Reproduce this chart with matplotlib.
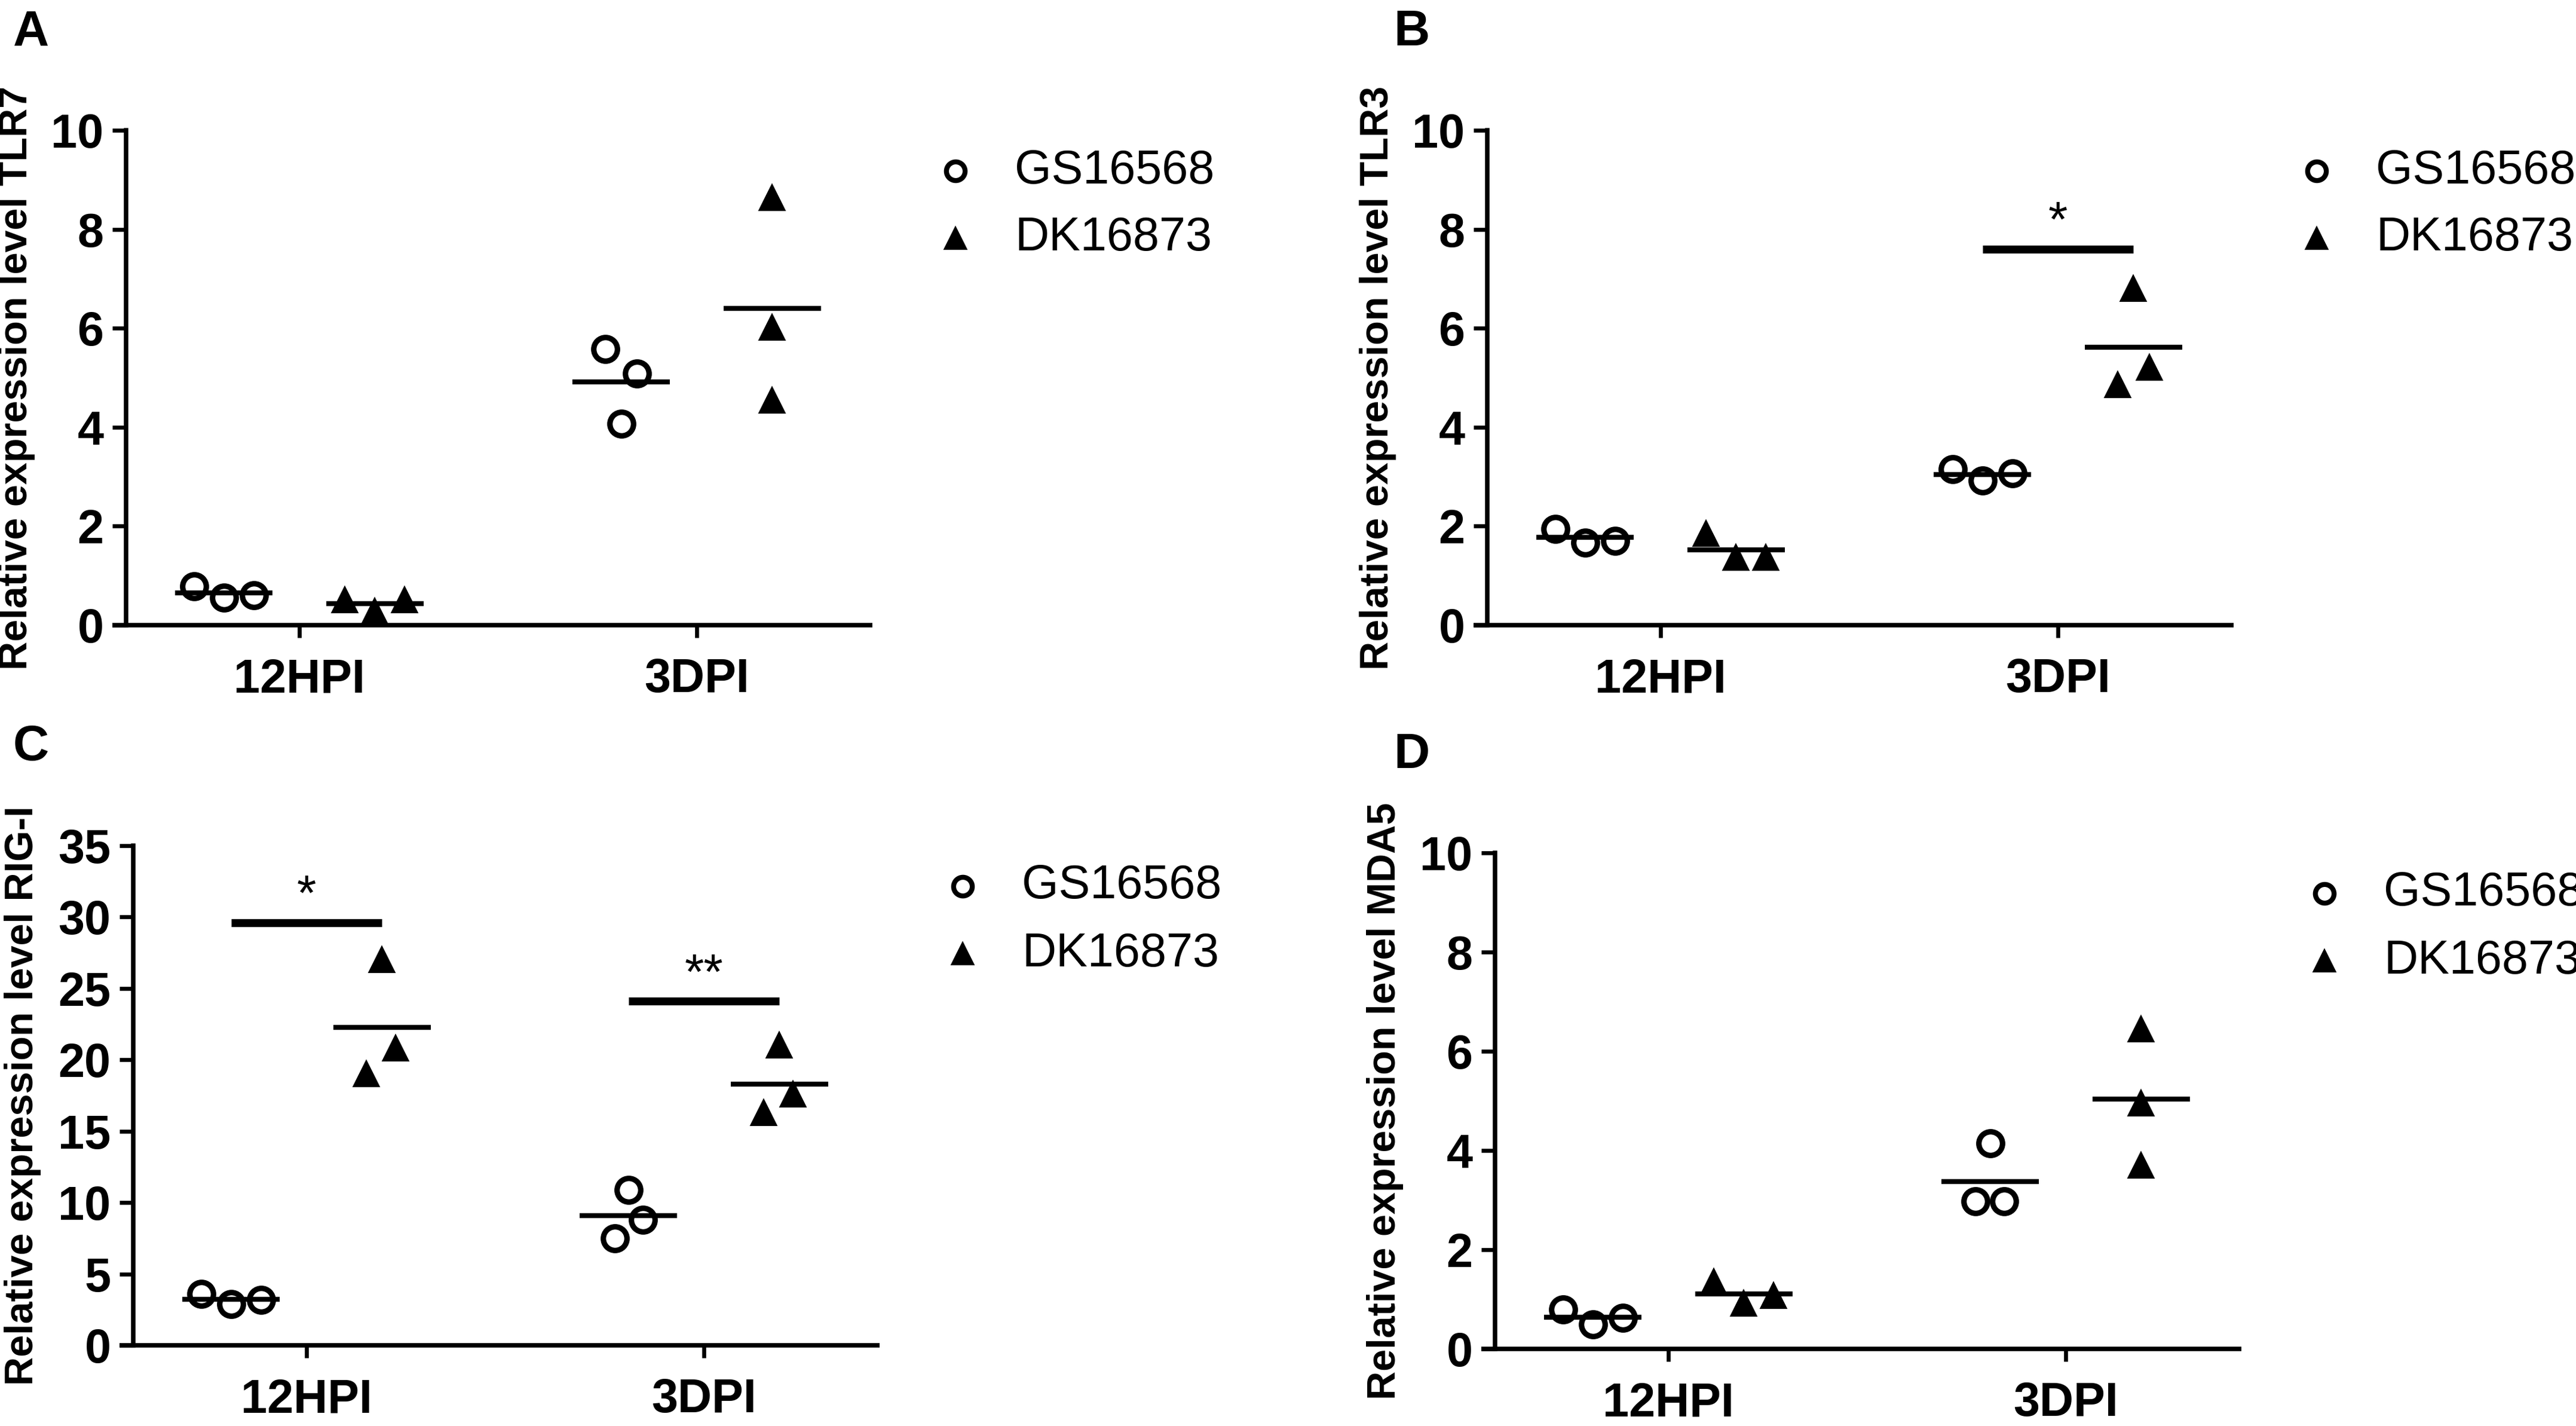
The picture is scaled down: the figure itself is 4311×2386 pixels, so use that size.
import numpy as np
import matplotlib
matplotlib.use("Agg")
import matplotlib.pyplot as plt

plt.rcParams['font.family'] = ['Liberation Sans', 'DejaVu Sans']

timepoints = ['12HPI', '3DPI']
strains = ['GS16568', 'DK16873']

# A - TLR7, three replicates per time point
tlr7_gs = [[0.79, 0.56, 0.60], [5.58, 5.09, 4.07]]
tlr7_dk = [[0.51, 0.28, 0.51], [8.63, 6.02, 4.54]]
# B - TLR3
tlr3_gs = [[1.95, 1.67, 1.70], [3.15, 2.92, 3.07]]
tlr3_dk = [[1.85, 1.36, 1.36], [6.80, 5.20, 4.85]]
# C - RIG-I
rigi_gs = [[3.60, 2.90, 3.20], [10.9, 8.8, 7.5]]
rigi_dk = [[27.0, 20.8, 19.0], [21.0, 17.6, 16.3]]
# D - MDA5
mda5_gs = [[0.80, 0.50, 0.63], [4.15, 2.98, 2.98]]
mda5_dk = [[1.35, 0.92, 1.07], [6.45, 4.95, 3.70]]

# significance bars: (time point index, bar height, label)
tlr3_sig = [(1, 7.6, '*')]
rigi_sig = [(0, 29.6, '*'), (1, 24.1, '**')]

W, H = 4311, 2386
fig = plt.figure(figsize=(W / 300, H / 300), dpi=300)

TICK_DIST = 665.0          # px between the two x ticks
XLIM = (-0.470, 1.442)
YSPINE = -0.436
GROUP_OFF = 0.19
MEAN_HW = 0.123


def panel(tick0_px, top_px, bot_px, gs, dk, gs_jit, dk_jit, ymax, ystep,
          ylabel, ylabel_x, letter, letter_xy, sig=()):
    left = tick0_px + XLIM[0] * TICK_DIST
    width = (XLIM[1] - XLIM[0]) * TICK_DIST
    ax = fig.add_axes([left / W, 1 - bot_px / H, width / W, (bot_px - top_px) / H])

    for i in range(2):
        xg = i - GROUP_OFF + np.array(gs_jit[i])
        xd = i + GROUP_OFF + np.array(dk_jit[i])
        ax.plot(xg, gs[i], 'o', ms=9.5, mfc='white', mec='black', mew=2.2,
                clip_on=False, zorder=3)
        ax.plot(xd, dk[i], '^', ms=9.5, color='black', clip_on=False, zorder=3)
        ax.hlines(np.mean(gs[i]), i - GROUP_OFF - MEAN_HW, i - GROUP_OFF + MEAN_HW,
                  color='black', lw=2.0, zorder=4)
        ax.hlines(np.mean(dk[i]), i + GROUP_OFF - MEAN_HW, i + GROUP_OFF + MEAN_HW,
                  color='black', lw=2.0, zorder=4)

    for i, h, lab in sig:
        ax.hlines(h, i - GROUP_OFF, i + GROUP_OFF, color='black', lw=3.2)
        ax.annotate(lab, (i, h), xytext=(0, 1), textcoords='offset points',
                    ha='center', va='bottom', fontsize=20)

    ax.set_xlim(*XLIM)
    ax.set_ylim(0, ymax)
    ax.spines['top'].set_visible(False)
    ax.spines['right'].set_visible(False)
    ax.spines['left'].set_position(('data', YSPINE))
    ax.spines['left'].set_linewidth(1.8)
    ax.spines['bottom'].set_linewidth(1.8)
    ax.spines['bottom'].set_capstyle('butt')

    ax.set_xticks([0, 1], timepoints)
    yt = np.arange(0, ymax + ystep / 2, ystep)
    ax.set_yticks(yt, [str(int(v)) for v in yt])
    ax.tick_params(axis='x', length=5, width=1.6, pad=8, labelsize=19)
    ax.tick_params(axis='y', length=5.5, width=1.6, pad=3.5, labelsize=19)
    for t in ax.get_xticklabels() + ax.get_yticklabels():
        t.set_fontweight('bold')

    cy = 1 - (top_px + bot_px) / 2 / H
    fig.text(ylabel_x / W, cy, ylabel, rotation=90, ha='center', va='center',
             fontsize=16, fontweight='bold')
    fig.text(letter_xy[0] / W, 1 - letter_xy[1] / H, letter, ha='left',
             va='baseline', fontsize=20, fontweight='bold')

    # legend, placed relative to the y axis line
    yspine_px = tick0_px + YSPINE * TICK_DIST
    rows = [top_px + 68, top_px + 181]
    for r, mk, lab in zip(rows, ['o', '^'], strains):
        fy = 1 - r / H
        if mk == 'o':
            fig.lines.append(plt.Line2D([(yspine_px + 1388) / W], [fy], marker='o',
                                        ms=7.5, mfc='white', mec='black', mew=2.0,
                                        ls='none', transform=fig.transFigure))
        else:
            fig.lines.append(plt.Line2D([(yspine_px + 1388) / W], [fy], marker='^',
                                        ms=8, color='black', ls='none',
                                        transform=fig.transFigure))
        fig.text((yspine_px + 1487) / W, fy, lab, ha='left', va='center', fontsize=19)
    return ax


j3 = [-0.075, 0.0, 0.075]
panel(501, 218, 1046, tlr7_gs, tlr7_dk,
      [j3, [-0.04, 0.04, 0.0]], [j3, [0.0, 0.0, 0.0]],
      10, 2, 'Relative expression level TLR7', 28, 'A', (22, 76))
panel(2779, 218, 1046, tlr3_gs, tlr3_dk,
      [j3, j3], [j3, [0.0, 0.04, -0.04]],
      10, 2, 'Relative expression level TLR3', 2306, 'B', (2332, 76), tlr3_sig)
panel(513, 1415, 2251, rigi_gs, rigi_dk,
      [j3, [0.0, 0.037, -0.034]], [[0.0, 0.034, -0.04], [0.0, 0.034, -0.04]],
      35, 5, 'Relative expression level RIG-I', 38, 'C', (22, 1272), rigi_sig)
panel(2792, 1427, 2257, mda5_gs, mda5_dk,
      [j3, [0.0, -0.037, 0.035]], [j3, [0.0, 0.0, 0.0]],
      10, 2, 'Relative expression level MDA5', 2318, 'D', (2332, 1285))

fig.savefig('out.png', dpi=300)
